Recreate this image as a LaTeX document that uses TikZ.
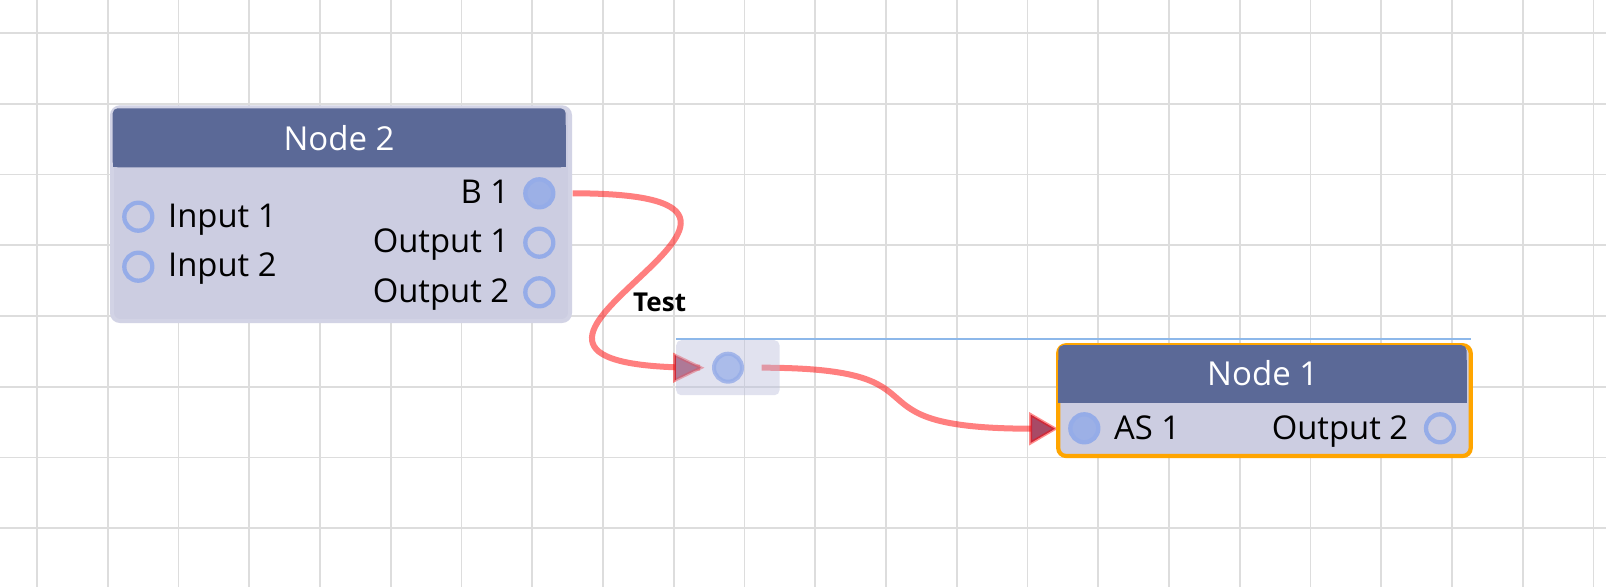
\documentclass[tikz,border=0pt]{standalone}
\usepackage{fontspec}
\setmainfont{Open Sans}
\definecolor{gridc}{HTML}{DDDDDD}
\definecolor{hdr}{HTML}{5B6997}
\definecolor{bodyc}{HTML}{CCCDE1}
\definecolor{outerc}{HTML}{D2D3E5}
\definecolor{portc}{HTML}{95ACE8}
\definecolor{portfill}{HTML}{9CB0E6}
\definecolor{linkc}{HTML}{FF0000}
\definecolor{arrowfill}{HTML}{A84A66}
\definecolor{selc}{HTML}{FFA500}
\definecolor{bluel}{HTML}{8DB8EA}
\definecolor{rrbox}{HTML}{B8BCDB}
\begin{document}
\begin{tikzpicture}[x=1pt,y=-1pt,
  lbl/.style={inner sep=0pt, font=\fontsize{32.8}{38}\selectfont},
  ttl/.style={inner sep=0pt, text=white, font=\fontsize{33}{38}\selectfont},
  port/.style={circle, draw=portc, line width=4.3pt, fill=bodyc, minimum size=28pt, inner sep=0pt},
  portf/.style={port, fill=portfill},
  link/.style={draw=linkc, draw opacity=0.5, line width=6pt},
  arrowhd/.style={fill=arrowfill, draw=linkc, draw opacity=0.45, line width=3pt, line join=miter},
  nodebox/.style={fill=bodyc, rounded corners=8pt, inner sep=0pt, anchor=north west}
]
\useasboundingbox (0,0) rectangle (1606,587);
\fill[white] (0,0) rectangle (1606,587);
% grid
\foreach \i in {0,...,22} \draw[gridc, line width=1.6pt] ({37+70.75*\i},0) -- ({37+70.75*\i},587);
\foreach \j in {0,...,7} \draw[gridc, line width=1.6pt] (0,{33+70.75*\j}) -- (1606,{33+70.75*\j});

% connection coordinates
\coordinate (c1s) at (572.7,193.3);
\coordinate (c1e) at (700,367.7);
\coordinate (c2s) at (761.7,367.7);
\coordinate (c2e) at (1032,428.7);

% links
\draw[link] (c1s) .. controls +(313,0) and +(-313,0) .. (c1e);
\draw[link] (c2s) .. controls +(200,0) and +(-200,0) .. (c2e);

% reroute arrow, box and port
\draw[arrowhd] (674.5,355) -- (701,367.7) -- (674.5,380.5) -- cycle;
\node[nodebox, fill=rrbox, fill opacity=0.42, rounded corners=5pt, minimum width=103.3pt, minimum height=55pt] (rr) at (676,340) {};
\node[port, fill=portfill!85!white, draw opacity=0.8, line width=4pt] (rrp) at (728,367.7) {};

% arrow into Node 1
\draw[arrowhd] (1030.5,414.5) -- (1055,428.7) -- (1030.5,443) -- cycle;

% Node 2
\node[nodebox, draw=outerc, line width=4pt, minimum width=458pt, minimum height=213.7pt] (n2) at (110,105.3) {};
\fill[hdr, rounded corners=5pt] (112.7,108.3) rectangle (565.7,167.3);
\fill[hdr] (112.7,125) rectangle (565.7,167.3);
\node[ttl, anchor=base] (n2t) at (339,150) {Node 2};
\node[port] (i1) at (138.3,216.7) {};
\node[port] (i2) at (138.3,266.7) {};
\node[portf] (b1) at (539.3,193.3) {};
\node[port] (o1) at (539.3,242.7) {};
\node[port] (o2) at (539.3,292.3) {};
\node[lbl, anchor=base west] (i1t) at (168,227.7) {Input 1};
\node[lbl, anchor=base west] (i2t) at (168,276.7) {Input 2};
\node[lbl, anchor=base east] (b1t) at (509.3,203.3) {B 1};
\node[lbl, anchor=base east] (o1t) at (509.3,252.7) {Output 1};
\node[lbl, anchor=base east] (o2t) at (509.3,302.3) {Output 2};

% Node 1
\node[nodebox, draw=selc, line width=4.2pt, minimum width=412.5pt, minimum height=110.8pt] (n1) at (1056.1,343.1) {};
\fill[hdr, rounded corners=5pt] (1058.3,345.2) rectangle (1466.5,402.7);
\fill[hdr] (1058.3,360) rectangle (1466.5,402.7);
\node[ttl, anchor=base] (n1t) at (1262.7,385) {Node 1};
\node[portf] (as1) at (1084.3,428.3) {};
\node[port] (n1o2) at (1440,428.3) {};
\node[lbl, anchor=base west] (as1t) at (1114,439) {AS 1};
\node[lbl, anchor=base east] (n1o2t) at (1408.3,439) {Output 2};

% selection line
\draw[bluel, line width=2pt] (rr.north west) ++(0,-1) -- (1471,339);

% link label
\node[inner sep=0pt, anchor=base west, font=\bfseries\fontsize{26}{30}\selectfont] (lt) at (633,311.7) {Test};
\end{tikzpicture}
\end{document}
